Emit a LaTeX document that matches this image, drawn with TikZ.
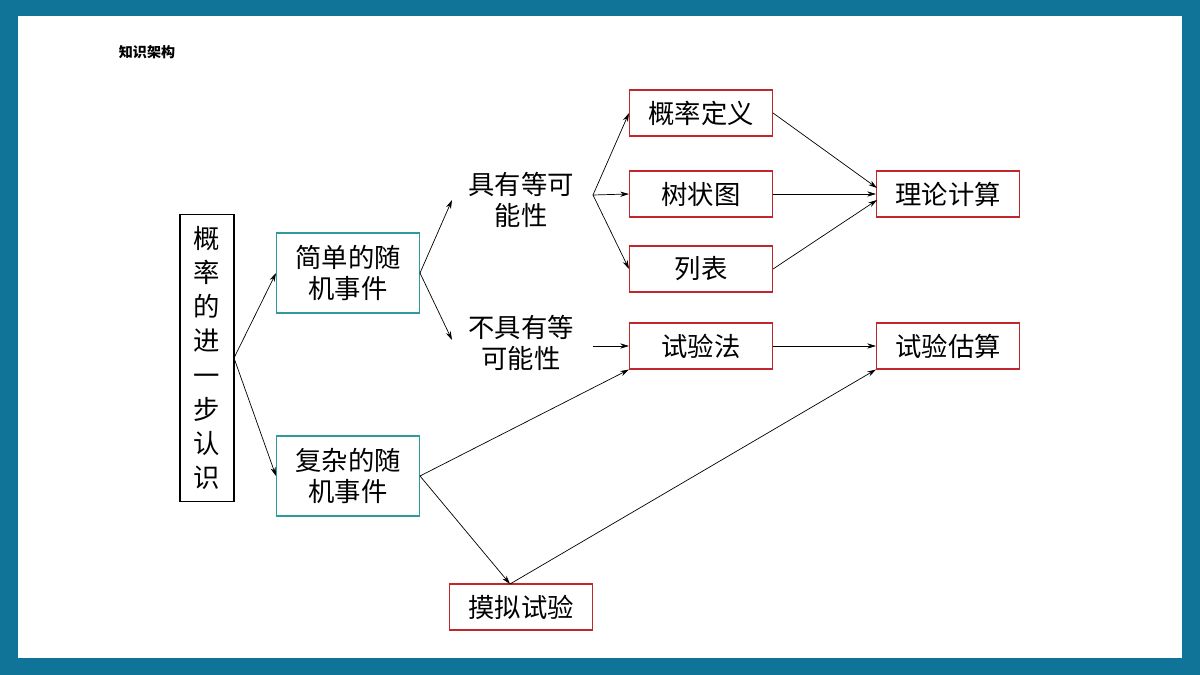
\documentclass[tikz,border=0pt]{standalone}
\usepackage{fontspec}
\setmainfont{Noto Sans CJK SC}
\usetikzlibrary{arrows.meta,positioning}
\definecolor{frame}{HTML}{0F7497}
\definecolor{tealbox}{HTML}{2E9A9A}
\definecolor{redbox}{HTML}{C0262B}
\tikzset{
  sbox/.style={draw=tealbox, semithick, minimum width=2.86cm, minimum height=1.6cm, align=center, font=\fontsize{15}{18}\selectfont, inner sep=0pt},
  rbox/.style={draw=redbox, semithick, minimum width=2.86cm, minimum height=0.92cm, align=center, font=\fontsize{15}{18}\selectfont, inner sep=0pt},
  label/.style={align=center, font=\fontsize{15}{18}\selectfont},
  arr/.style={-{Stealth[length=5pt,width=3pt]}, thin}
}
\begin{document}
\begin{tikzpicture}[x=0.02cm, y=-0.02cm]
% frame
\fill[frame] (0,0) rectangle (1200,675);
\fill[white] (18,16) rectangle (1182,658);
\node[font=\fontsize{8}{10}\selectfont\bfseries] (title) at (147,52) {知识架构};

% left column
\node[draw, semithick, minimum width=1.08cm, minimum height=5.74cm, align=center,
  font=\fontsize{15}{19.5}\selectfont, inner sep=0pt] (root) at (207,358)
  {概\\率\\的\\进\\一\\步\\认\\识};
\node[sbox] (simple) at (348,273) {简单的随\\机事件};
\node[sbox] (complex) at (348,476) {复杂的随\\机事件};

% middle texts
\node[label] (eq) at (521,200) {具有等可\\能性};
\node[label] (neq) at (521,343) {不具有等\\可能性};

% red boxes
\node[rbox] (def) at (701,113) {概率定义};
\node[rbox] (tree) at (701,194) {树状图};
\node[rbox] (list) at (701,269) {列表};
\node[rbox] (test) at (701,346) {试验法};
\node[rbox] (theory) at (948,194) {理论计算};
\node[rbox] (estim) at (948,346) {试验估算};
\node[rbox] (sim) at (521,607) {摸拟试验};

% connectors
\coordinate (rootout) at (234,358);
\draw[arr] (rootout) -- (simple.west);
\draw[arr] (rootout) -- (complex.west);
\coordinate (eqin) at (452,200);
\coordinate (neqin) at (452,340);
\draw[arr] (simple.east) -- (eqin);
\draw[arr] (simple.east) -- (neqin);
\coordinate (eqout) at (593,195);
\draw[arr] (eqout) -- (def.west);
\draw[arr] (eqout) -- (tree.west);
\draw[arr] (eqout) -- (list.west);
\draw[arr] (593,346) -- (test.west);
\draw[arr] (def.east) -- (877,188);
\draw[arr] (tree.east) -- (theory.west);
\draw[arr] (list.east) -- (877,200);
\draw[arr] (test.east) -- (estim.west);
\coordinate (simtop) at (510,584);
\draw[arr] (complex.east) -- (test.south west);
\draw[arr] (complex.east) -- (simtop);
\draw[arr] (simtop) -- (estim.south west);
\end{tikzpicture}
\end{document}
